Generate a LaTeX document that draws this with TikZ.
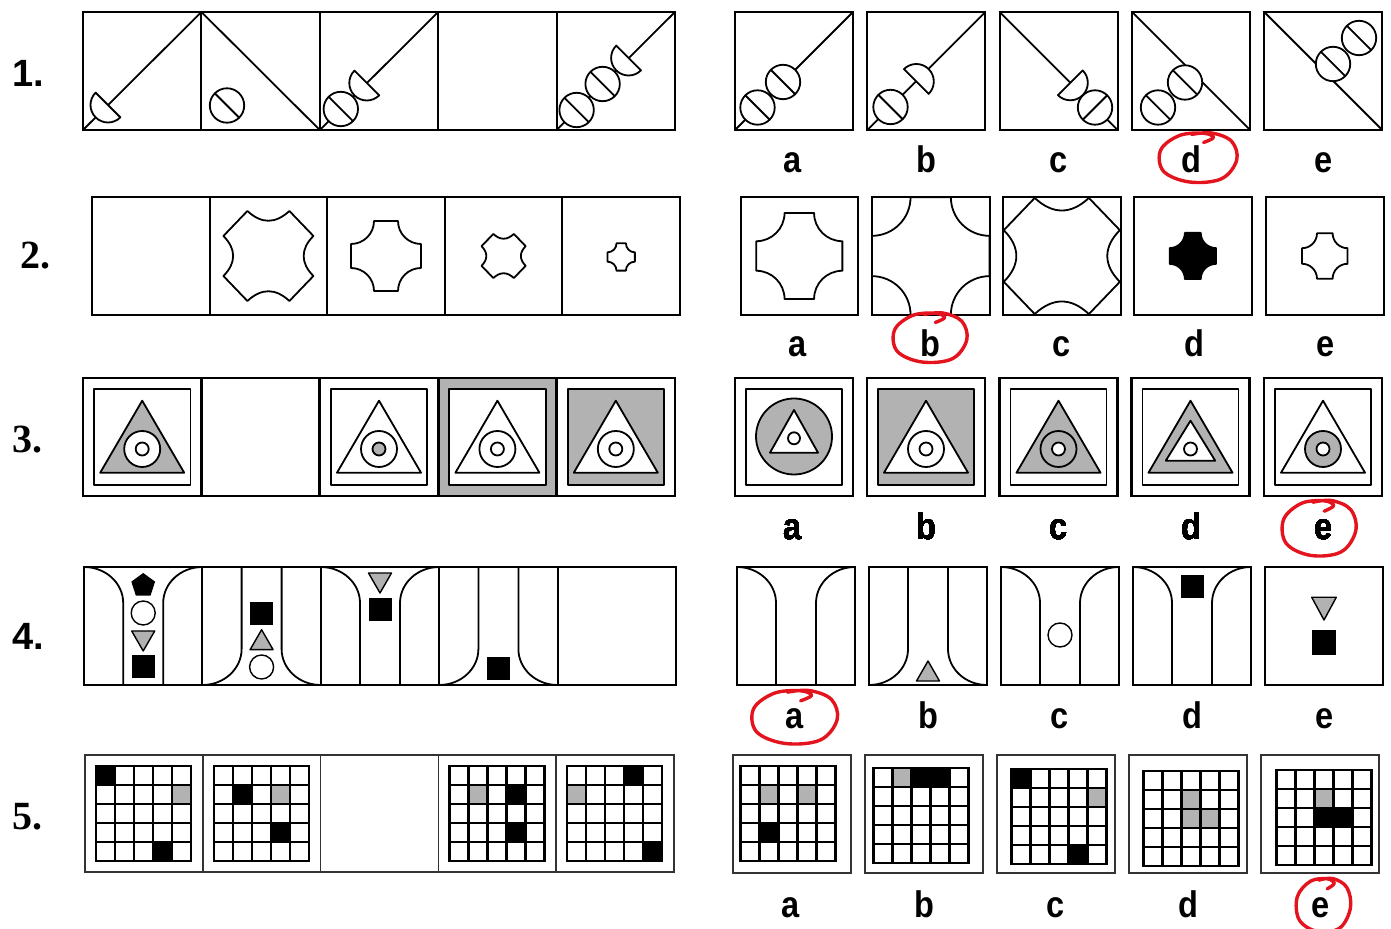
\documentclass[tikz,border=0pt]{standalone}
\usepackage{fontspec}
\setmainfont{Liberation Serif}
\newfontfamily\lsans{Liberation Sans}
\definecolor{sh}{RGB}{178,178,178}
\definecolor{redpen}{RGB}{228,20,30}
\tikzset{
 fig/.style={line width=0.9pt, line join=round},
 sfig/.style={line width=0.7pt, line join=round},
 frame/.style={line width=1pt},
 thickframe/.style={line width=1.4pt},
 thinframe/.style={line width=0.8pt, draw=black!80},
 gridl/.style={line width=1.2pt},
 rowlbl/.style={anchor=base west, inner sep=0pt, font=\fontsize{20}{22}\selectfont\bfseries},
 rowlbls/.style={anchor=base west, inner sep=0pt, font=\fontsize{19}{22}\selectfont\lsans\bfseries},
 anslbl/.style={anchor=base, inner sep=0pt, font=\fontsize{18.5}{20}\selectfont\lsans\bfseries, xscale=0.88},
 redloop/.style={draw=redpen, line width=1.7pt, line cap=round, line join=round},
}
% half disc: centre x, y, direction of the bulge
\newcommand\hdisc[3]{\filldraw[fig,fill=white,shift={(#1,#2)}] (#3-90:17.5) arc[start angle=#3-90,end angle=#3+90,radius=17.5] -- cycle;}
% striped circle: centre x, y, stripe angle
\newcommand\scirc[3]{\filldraw[fig,fill=white,shift={(#1,#2)}] (0,0) circle[radius=17.2]; \draw[fig,shift={(#1,#2)}] (#3:17.2) -- (#3+180:17.2);}
% leather shape: cx, cy, scale, extra style
\newcommand\leather[4]{\draw[fig,#4,shift={(#1,#2)},scale=#3] (-21,-45) .. controls (-7,-32) and (7,-32) .. (21,-45) -- (45,-20) .. controls (32,-7) and (32,7) .. (45,20) -- (21,45) .. controls (7,32) and (-7,32) .. (-21,45) -- (-45,20) .. controls (-32,7) and (-32,-7) .. (-45,-20) -- cycle;}
% cross shape with concave corners
\newcommand\crossshape[4]{\draw[fig,#4,shift={(#1,#2)},scale=#3] (-12,-35) -- (12,-35) arc[start angle=180,end angle=90,radius=23] -- (35,12) arc[start angle=270,end angle=180,radius=23] -- (-12,35) arc[start angle=0,end angle=-90,radius=23] -- (-35,-12) arc[start angle=90,end angle=0,radius=23] -- cycle;}
% row 3 cell base: x0, w, cell fill, inner fill
\newcommand\rbase[4]{\fill[#3] (#1,378) rectangle ++(#2,118); \filldraw[fig,fill=#4] (#1+11,389) rectangle (#1+#2-11,485);}
\newcommand\rframe[2]{\draw[thickframe] (#1,378) rectangle ++(#2,118);}
\newcommand\rtri[5]{\filldraw[fig,fill=#5] (#1,#2) -- (#1+#4,#3) -- (#1-#4,#3) -- cycle;}
\newcommand\rcirc[4]{\filldraw[fig,fill=#4] (#1,#2) circle[radius=#3];}
% row 4 channels: x0, w, rx
\newcommand\tshape[3]{\draw[fig] (#1,567) arc[start angle=-90,end angle=0,x radius=#3,y radius=36] -- (#1+#3,685); \draw[fig] (#1+#2-#3,685) -- (#1+#2-#3,603) arc[start angle=180,end angle=270,x radius=#3,y radius=36];}
\newcommand\ushape[3]{\draw[fig] (#1+#3,567) -- (#1+#3,649) arc[start angle=0,end angle=90,x radius=#3,y radius=36]; \draw[fig] (#1+#2-#3,567) -- (#1+#2-#3,649) arc[start angle=180,end angle=90,x radius=#3,y radius=36];}
\newcommand\dtri[2]{\filldraw[sfig,fill=sh] (#1-11.5,#2) -- (#1+11.5,#2) -- (#1,#2+20) -- cycle;}
\newcommand\utri[2]{\filldraw[sfig,fill=sh] (#1,#2) -- (#1+11.5,#2+20) -- (#1-11.5,#2+20) -- cycle;}
\newcommand\bsq[2]{\fill (#1-11.5,#2) rectangle ++(23,23);}
% row 5 grids
\newcommand\gc[5]{\fill[#5] (#1+#4*19-19,#2+#3*19-19) rectangle ++(19,19);}
\newcommand\grid[2]{\draw[gridl] (#1,#2) rectangle ++(95,95); \foreach \k in {1,...,4}{\draw[gridl] (#1+\k*19,#2) -- ++(0,95); \draw[gridl] (#1,#2+\k*19) -- ++(95,0);}}
% red hand-drawn loop
\newcommand\redmark[4]{\draw[redloop,shift={(#1,#2)},xscale=#3,yscale=#4] plot[smooth,tension=0.6] coordinates {(0.15,-0.6) (0.4,-0.8) (0.15,-0.97) (-0.45,-0.88) (-0.92,-0.3) (-0.85,0.55) (-0.2,0.98) (0.6,0.85) (0.98,0.1) (0.85,-0.65) (0.35,-0.98) (-0.15,-0.92)};}

\begin{document}
\begin{tikzpicture}[x=0.5pt,y=-0.5pt]
\useasboundingbox[fill=white] (0,0) rectangle (1391,929);

% ---------------- row labels
\node[rowlbls] (l1) at (12,87) {1.};
\node[rowlbl] (l2) at (20,269) {2.};
\node[rowlbl] (l3) at (12,453) {3.};
\node[rowlbls] (l4) at (12,650) {4.};
\node[rowlbl] (l5) at (12,829) {5.};

% ================= ROW 1
\draw[fig] (83,130) -- (201.4,12);
\hdisc{108}{105}{135}
\draw[fig] (201.4,12) -- (319.8,130);
\scirc{227}{105.5}{45}
\draw[fig] (319.8,130) -- (438.2,12);
\scirc{340.8}{109}{45}
\hdisc{366.8}{83}{135}
\draw[fig] (556.6,130) -- (675,12);
\scirc{576.6}{110}{45}
\scirc{602.6}{84}{45}
\hdisc{628.6}{58}{135}
\draw[frame] (83,12) rectangle (675,130);
\foreach \x in {201.4,319.8,438.2,556.6} \draw[frame] (\x,12) -- (\x,130);
% answers
\draw[fig] (735,130) -- (853,12);
\scirc{757.5}{107.5}{45}
\scirc{783}{82}{45}
\draw[fig] (867.3,130) -- (985.3,12);
\scirc{890.5}{107}{45}
\hdisc{916.3}{81.5}{-45}
\draw[fig] (999.5,12) -- (1117.5,130);
\scirc{1095}{107.5}{-45}
\hdisc{1070.3}{82.8}{45}
\draw[fig] (1132,12) -- (1250,130);
\scirc{1158}{107.5}{45}
\scirc{1185}{82.5}{45}
\draw[fig] (1264.2,12) -- (1382.2,130);
\scirc{1333}{64}{45}
\scirc{1359}{38}{45}
\foreach \x in {735,867.3,999.5,1132,1264.2} \draw[frame] (\x,12) rectangle ++(118,118);
\foreach \l/\x in {a/793,b/926,c/1059,d/1191,e/1324} \node[anslbl] (r1\l) at (\x,173) {\l};

% ================= ROW 2
\leather{268.4}{256}{1}{}
\crossshape{386}{256}{1}{}
\leather{503.6}{256}{0.49}{}
\crossshape{621.2}{257}{0.39}{}
\draw[frame] (92,197) rectangle (680,315);
\foreach \x in {209.6,327.2,444.8,562.4} \draw[frame] (\x,197) -- (\x,315);
% answers
\crossshape{799.3}{256}{1.23}{}
\crossshape{930.7}{256}{1.68}{}
\leather{1061.8}{256}{1.29}{}
\crossshape{1192.8}{256}{0.66}{fill=black}
\crossshape{1324.8}{256}{0.65}{}
\foreach \x in {740.5,872,1003,1134,1266} \draw[frame] (\x,197) rectangle ++(117.5,118);
\foreach \l/\x in {a/798,b/930,c/1062,d/1194,e/1326} \node[anslbl] (r2\l) at (\x,357) {\l};

% ================= ROW 3
\rbase{83}{118.4}{white}{white}
\rtri{142.2}{400.7}{472.7}{42}{sh}
\rcirc{142.2}{449}{18}{white}
\rcirc{142.2}{449}{6.5}{white}
\rbase{319.8}{118.4}{white}{white}
\rtri{379}{400.7}{472.7}{42}{white}
\rcirc{379}{449}{18}{white}
\rcirc{379}{449}{6.5}{sh}
\rbase{438.2}{118.4}{sh}{white}
\rtri{497.4}{400.7}{472.7}{42}{white}
\rcirc{497.4}{449}{18}{white}
\rcirc{497.4}{449}{6.5}{white}
\rbase{556.6}{118.4}{white}{sh}
\rtri{615.8}{400.7}{472.7}{42}{white}
\rcirc{615.8}{449}{18}{white}
\rcirc{615.8}{449}{6.5}{white}
\foreach \x in {83,201.4,319.8,438.2,556.6} \rframe{\x}{118.4}
% answers
\rbase{735}{118}{white}{white}
\rcirc{794}{436.5}{38}{sh}
\rtri{794}{410}{452.7}{24}{white}
\rcirc{794}{438.3}{6}{white}
\rbase{867}{118}{white}{sh}
\rtri{926}{400.7}{472.7}{42}{white}
\rcirc{926}{449}{18}{white}
\rcirc{926}{449}{6.5}{white}
\rbase{999.5}{118}{white}{white}
\rtri{1058.5}{400.7}{472.7}{42}{sh}
\rcirc{1058.5}{449}{18}{sh}
\rcirc{1058.5}{449}{6.5}{white}
\rbase{1131.5}{118}{white}{white}
\rtri{1190.5}{400.7}{472.7}{42}{sh}
\rtri{1190.5}{420.7}{460.7}{24.7}{white}
\rcirc{1190.5}{449}{6.5}{white}
\rbase{1264}{118}{white}{white}
\rtri{1323}{400.7}{472.7}{42}{white}
\rcirc{1323}{449}{18}{sh}
\rcirc{1323}{449}{6.5}{white}
\foreach \x in {735,867,999.5,1131.5,1264} \rframe{\x}{118}
\foreach \l/\x in {a/793,b/926,c/1059,d/1191,e/1324} \node[anslbl] (r3\l) at (\x,540) {\l};

% ================= ROW 4
\tshape{84}{118.4}{39.2}
\fill (143.2,585.5) +(-90:12.5) -- +(-18:12.5) -- +(54:12.5) -- +(126:12.5) -- +(198:12.5) -- cycle;
\filldraw[sfig,fill=white] (143.2,613) circle[radius=12];
\dtri{143.2}{631}
\bsq{143.2}{655.3}
\ushape{202.4}{118.4}{39.2}
\bsq{261.6}{602}
\utri{261.6}{629.7}
\filldraw[sfig,fill=white] (261.6,667) circle[radius=12];
\tshape{320.8}{118.4}{39.2}
\dtri{380}{573}
\bsq{380}{598}
\ushape{439.2}{118.4}{39.2}
\bsq{498.4}{656.7}
\draw[frame] (84,567) rectangle (676,685);
\foreach \x in {202.4,320.8,439.2,557.6} \draw[frame] (\x,567) -- (\x,685);
% answers
\tshape{737}{118}{39}
\ushape{869}{118}{39}
\utri{928}{661}
\tshape{1001}{118}{39}
\filldraw[sfig,fill=white] (1060,635) circle[radius=12];
\tshape{1133}{118}{39}
\bsq{1192}{574.7}
\filldraw[sfig,fill=sh] (1311.7,597.3) -- (1336.3,597.3) -- (1324,620) -- cycle;
\fill (1312,629.7) rectangle (1336,654.7);
\foreach \x in {737,869,1001,1133,1265} \draw[frame] (\x,567) rectangle ++(118,118);
\foreach \l/\x in {a/795,b/928,c/1060,d/1192,e/1325} \node[anslbl] (r4\l) at (\x,728) {\l};

% ================= ROW 5
\gc{96}{766}{1}{1}{black}\gc{96}{766}{2}{5}{sh}\gc{96}{766}{5}{4}{black}
\grid{96}{766}
\gc{213.8}{766}{2}{2}{black}\gc{213.8}{766}{2}{4}{sh}\gc{213.8}{766}{4}{4}{black}
\grid{213.8}{766}
\gc{449.4}{766}{2}{2}{sh}\gc{449.4}{766}{2}{4}{black}\gc{449.4}{766}{4}{4}{black}
\grid{449.4}{766}
\gc{567.2}{766}{1}{4}{black}\gc{567.2}{766}{2}{1}{sh}\gc{567.2}{766}{5}{5}{black}
\grid{567.2}{766}
\draw[thinframe] (85,755) rectangle (674,872);
\foreach \x in {202.8,320.6,438.4,556.2} \draw[thinframe] (\x,755) -- (\x,872);
% answers
\gc{740.5}{766}{2}{2}{sh}\gc{740.5}{766}{2}{4}{sh}\gc{740.5}{766}{4}{2}{black}
\grid{740.5}{766}
\gc{873.5}{768}{1}{2}{sh}\gc{873.5}{768}{1}{3}{black}\gc{873.5}{768}{1}{4}{black}
\grid{873.5}{768}
\gc{1011.5}{769}{1}{1}{black}\gc{1011.5}{769}{2}{5}{sh}\gc{1011.5}{769}{5}{4}{black}
\grid{1011.5}{769}
\gc{1143.5}{771}{2}{3}{sh}\gc{1143.5}{771}{3}{3}{sh}\gc{1143.5}{771}{3}{4}{sh}
\grid{1143.5}{771}
\gc{1276.5}{770}{2}{3}{sh}\gc{1276.5}{770}{3}{3}{black}\gc{1276.5}{770}{3}{4}{black}
\grid{1276.5}{770}
\foreach \x in {733,865,997,1129,1261} \draw[thinframe] (\x,755) rectangle ++(118,118);
\foreach \l/\x in {a/791,b/924,c/1056,d/1188,e/1321} \node[anslbl] (r5\l) at (\x,917) {\l};

% ================= red marks
\redmark{1197.5}{157.5}{40}{25}
\redmark{929.5}{337.5}{38}{25}
\redmark{1318.5}{528}{38}{28}
\redmark{794}{717}{44}{27}
\redmark{1323}{905}{28}{27}
\end{tikzpicture}
\end{document}
